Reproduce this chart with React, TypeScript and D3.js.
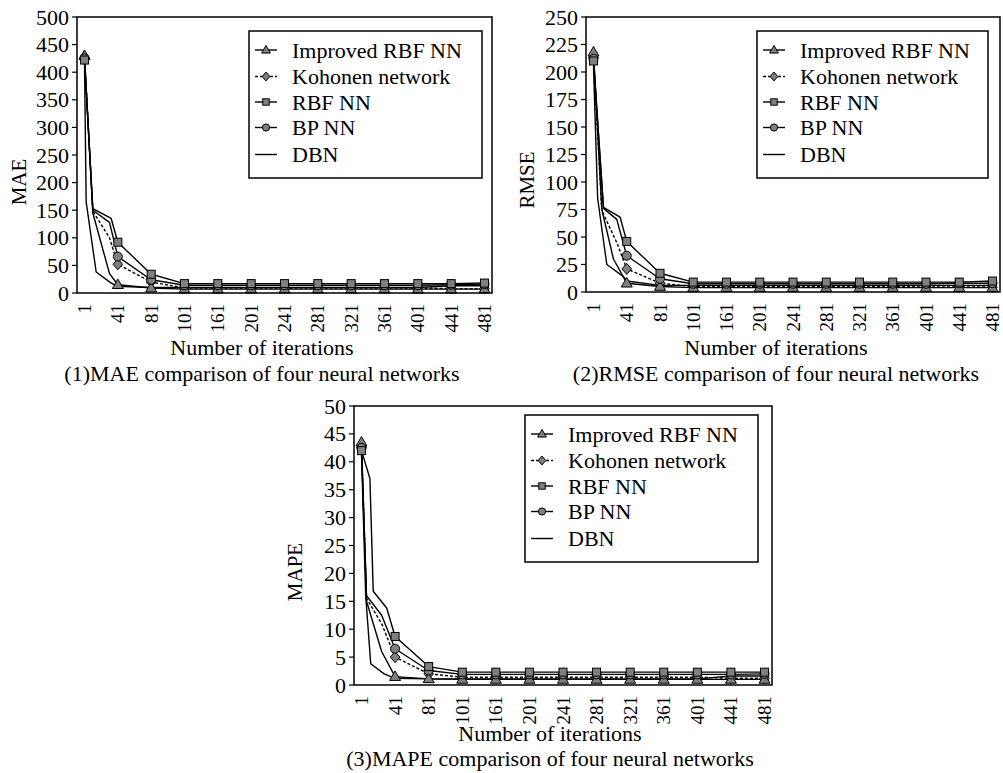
import React from "react";
import * as d3 from "d3";

// Iterations shown on the category axis
const iterationLabels = ["1", "41", "81", "101", "161", "201", "241", "281", "321", "361", "401", "441", "481"];
const iterationValues = iterationLabels.map(Number);

const seriesNames = ["Improved RBF NN", "Kohonen network", "RBF NN", "BP NN", "DBN"];

// ---- MAE, one value per labelled iteration ----
const maeImproved = [430, 15, 9, 7, 7, 7, 7, 7, 7, 7, 7, 7, 7];
const maeKohonen = [427, 52, 20, 9, 9, 9, 9, 9, 9, 9, 9, 8, 8];
const maeRbf = [422, 92, 34, 17, 17, 17, 17, 17, 17, 17, 17, 17, 18];
const maeBp = [425, 66, 24, 14, 14, 14, 14, 14, 14, 14, 14, 15, 16];
const maeDbn = [420, 12, 10, 10, 10, 10, 10, 10, 10, 10, 10, 13, 13];
// MAE readings between iterations 1 and 41: [iteration, value]
const maeImprovedEarly = [[11, 145], [31, 35]];
const maeKohonenEarly = [[11, 148], [31, 100]];
const maeRbfEarly = [[11, 153], [33, 135]];
const maeBpEarly = [[11, 150], [31, 128]];
const maeDbnEarly = [[3, 165], [15, 38], [33, 18]];

// ---- RMSE ----
const rmseImproved = [218, 8, 5, 4, 4, 4, 4, 4, 4, 4, 4, 4, 4];
const rmseKohonen = [213, 21, 8, 5, 5, 5, 5, 5, 5, 5, 4.5, 4.5, 4.5];
const rmseRbf = [210, 46, 17, 9, 9, 9, 9, 9, 9, 9, 9, 9, 10];
const rmseBp = [212, 33, 12, 7.5, 7.5, 7.5, 7.5, 7.5, 7.5, 7.5, 7.5, 8, 8];
const rmseDbn = [205, 10, 6, 6, 6, 6, 6, 6, 6, 6, 6, 6, 6];
const rmseImprovedEarly = [[11, 75], [25, 30]];
const rmseKohonenEarly = [[11, 74], [29, 45]];
const rmseRbfEarly = [[13, 77], [33, 68]];
const rmseBpEarly = [[13, 76], [29, 66]];
const rmseDbnEarly = [[6, 85], [17, 25], [37, 14]];

// ---- MAPE ----
const mapeImproved = [43.5, 1.5, 1.1, 1.0, 1.0, 1.0, 1.0, 1.0, 1.0, 1.0, 1.0, 1.0, 1.0];
const mapeKohonen = [42.5, 5, 2, 1.4, 1.4, 1.4, 1.4, 1.4, 1.4, 1.4, 1.4, 1.2, 1.2];
const mapeRbf = [42, 8.7, 3.3, 2.3, 2.3, 2.3, 2.3, 2.3, 2.3, 2.3, 2.3, 2.3, 2.3];
const mapeBp = [42.5, 6.5, 2.6, 1.9, 1.9, 1.9, 1.9, 1.9, 1.9, 1.9, 1.9, 1.9, 2.0];
const mapeDbn = [41.5, 1.2, 1.1, 1.1, 1.1, 1.1, 1.1, 1.1, 1.1, 1.1, 1.1, 1.6, 1.6];
const mapeImprovedEarly = [[7, 15], [25, 6]];
const mapeKohonenEarly = [[7, 15.5], [25, 11]];
const mapeRbfEarly = [[11, 37], [15, 16.8], [31, 13.8]];
const mapeBpEarly = [[7, 16], [25, 12.5]];
const mapeDbnEarly = [[6, 16], [12, 3.8], [28, 2.0]];

type Marker = "triangle" | "diamond" | "square" | "circle" | "none";
const seriesStyle: { marker: Marker; dash: string | null }[] = [
  { marker: "triangle", dash: null },
  { marker: "diamond", dash: "3,2" },
  { marker: "square", dash: null },
  { marker: "circle", dash: null },
  { marker: "none", dash: null },
];

type Panel = {
  yTitle: string;
  caption: string;
  yMax: number;
  yStep: number;
  values: number[][];
  early: number[][][];
  box: { l: number; t: number; r: number; b: number };
  legend: { l: number; t: number; r: number; b: number };
  yTitleX: number;
  yTitleY: number;
  centerX: number;
  xTitleY: number;
  captionY: number;
};

// series order: Improved, Kohonen, RBF, BP, DBN
const panels: Panel[] = [
  {
    yTitle: "MAE",
    caption: "(1)MAE comparison of four neural networks",
    yMax: 500,
    yStep: 50,
    values: [maeImproved, maeKohonen, maeRbf, maeBp, maeDbn],
    early: [maeImprovedEarly, maeKohonenEarly, maeRbfEarly, maeBpEarly, maeDbnEarly],
    box: { l: 77, t: 17, r: 492, b: 293 },
    legend: { l: 249, t: 31, r: 482, b: 178 },
    yTitleX: 19,
    yTitleY: 182,
    centerX: 262,
    xTitleY: 355,
    captionY: 381,
  },
  {
    yTitle: "RMSE",
    caption: "(2)RMSE comparison of four neural networks",
    yMax: 250,
    yStep: 25,
    values: [rmseImproved, rmseKohonen, rmseRbf, rmseBp, rmseDbn],
    early: [rmseImprovedEarly, rmseKohonenEarly, rmseRbfEarly, rmseBpEarly, rmseDbnEarly],
    box: { l: 586, t: 17, r: 1000, b: 292 },
    legend: { l: 757, t: 31, r: 988, b: 178 },
    yTitleX: 527,
    yTitleY: 180,
    centerX: 776,
    xTitleY: 355,
    captionY: 381,
  },
  {
    yTitle: "MAPE",
    caption: "(3)MAPE comparison of four neural networks",
    yMax: 50,
    yStep: 5,
    values: [mapeImproved, mapeKohonen, mapeRbf, mapeBp, mapeDbn],
    early: [mapeImprovedEarly, mapeKohonenEarly, mapeRbfEarly, mapeBpEarly, mapeDbnEarly],
    box: { l: 354, t: 406, r: 772, b: 685 },
    legend: { l: 525, t: 415, r: 758, b: 562 },
    yTitleX: 295,
    yTitleY: 572,
    centerX: 550,
    xTitleY: 741,
    captionY: 766,
  },
];

const FONT = "'Liberation Serif', 'Times New Roman', serif";
const MARKER_FILL = "#7f7f7f";

function MarkerShape({ kind, x, y, s }: { kind: Marker; x: number; y: number; s: number }) {
  const common = { fill: MARKER_FILL, stroke: "#000", strokeWidth: 1 };
  if (kind === "triangle") {
    const w = 5.5 * s, h = 9.5 * s;
    return <path d={`M${x},${y - h * 0.6}L${x + w},${y + h * 0.4}L${x - w},${y + h * 0.4}Z`} {...common} />;
  }
  if (kind === "diamond") {
    const w = 4.8 * s, h = 5.5 * s;
    return <path d={`M${x},${y - h}L${x + w},${y}L${x},${y + h}L${x - w},${y}Z`} {...common} />;
  }
  if (kind === "square") {
    const a = 4 * s;
    return <rect x={x - a} y={y - a} width={2 * a} height={2 * a} {...common} />;
  }
  if (kind === "circle") {
    return <circle cx={x} cy={y} r={4.5 * s} {...common} />;
  }
  return null;
}

function ChartPanel({ p }: { p: Panel }) {
  const { box } = p;
  const pad = 7.5;
  const idx = d3.range(iterationLabels.length);
  const xPos = d3.scaleLinear().domain([0, iterationLabels.length - 1]).range([box.l + pad, box.r - pad]);
  // piecewise mapping from iteration number to category position
  const iterToPos = d3.scaleLinear().domain(iterationValues).range(idx);
  const y = d3.scaleLinear().domain([0, p.yMax]).range([box.b, box.t]);
  const yTicks = d3.range(0, p.yMax + p.yStep / 2, p.yStep);
  const line = d3
    .line<[number, number]>()
    .x((d) => xPos(iterToPos(d[0])))
    .y((d) => y(d[1]));

  const seriesPoints = p.values.map((vals, si) => {
    const pts: [number, number][] = vals.map((v, i) => [iterationValues[i], v]);
    p.early[si].forEach((e) => pts.push([e[0], e[1]]));
    pts.sort((a, b) => a[0] - b[0]);
    return pts;
  });

  const drawOrder = [4, 1, 0, 3, 2];
  const lg = p.legend;
  const rowY = [19, 45.5, 71, 96.5, 123.5];

  return (
    <g>
      {/* y axis ticks and labels */}
      {yTicks.map((t) => (
        <g key={t}>
          <line x1={box.l - 5} x2={box.l} y1={y(t)} y2={y(t)} stroke="#000" strokeWidth={1.2} />
          <text x={box.l - 8} y={y(t)} textAnchor="end" dominantBaseline="central" fontSize={22} fontFamily={FONT}>
            {t}
          </text>
        </g>
      ))}
      {/* x category labels */}
      {iterationLabels.map((lab, i) => (
        <text
          key={lab}
          transform={`translate(${xPos(i)},${box.b + 11}) rotate(-90)`}
          textAnchor="end"
          dominantBaseline="central"
          fontSize={19}
          fontFamily={FONT}
        >
          {lab}
        </text>
      ))}
      {/* series lines */}
      {drawOrder.map((si) => (
        <path
          key={`l${si}`}
          d={line(seriesPoints[si]) || ""}
          fill="none"
          stroke="#000"
          strokeWidth={1.4}
          strokeDasharray={seriesStyle[si].dash || undefined}
          strokeLinejoin="round"
        />
      ))}
      {/* markers at labelled iterations */}
      {drawOrder.map((si) =>
        p.values[si].map((v, i) => (
          <MarkerShape key={`m${si}-${i}`} kind={seriesStyle[si].marker} x={xPos(i)} y={y(v)} s={1} />
        ))
      )}
      {/* plot frame */}
      <rect x={box.l} y={box.t} width={box.r - box.l} height={box.b - box.t} fill="none" stroke="#000" strokeWidth={1.5} />
      {/* legend */}
      <rect x={lg.l} y={lg.t} width={lg.r - lg.l} height={lg.b - lg.t} fill="#fff" stroke="#000" strokeWidth={1.5} />
      {seriesNames.map((name, si) => {
        const cy = lg.t + rowY[si];
        return (
          <g key={name}>
            <line
              x1={lg.l + 6}
              x2={lg.l + 28}
              y1={cy}
              y2={cy}
              stroke="#000"
              strokeWidth={1.4}
              strokeDasharray={seriesStyle[si].dash || undefined}
            />
            <MarkerShape kind={seriesStyle[si].marker} x={lg.l + 17} y={cy} s={0.8} />
            <text x={lg.l + 43} y={cy} dominantBaseline="central" fontSize={22} fontFamily={FONT}>
              {name}
            </text>
          </g>
        );
      })}
      {/* titles */}
      <text
        transform={`translate(${p.yTitleX},${p.yTitleY}) rotate(-90)`}
        textAnchor="middle"
        dominantBaseline="central"
        fontSize={21}
        fontFamily={FONT}
      >
        {p.yTitle}
      </text>
      <text x={p.centerX} y={p.xTitleY} textAnchor="middle" fontSize={22} fontFamily={FONT}>
        Number of iterations
      </text>
      <text x={p.centerX} y={p.captionY} textAnchor="middle" fontSize={22} fontFamily={FONT}>
        {p.caption}
      </text>
    </g>
  );
}

export default function App() {
  return (
    <svg
      width={1003}
      height={773}
      style={{ position: "absolute", left: 0, top: 0, background: "#fff" }}
    >
      <rect width={1003} height={773} fill="#fff" />
      {panels.map((p) => (
        <ChartPanel key={p.yTitle} p={p} />
      ))}
    </svg>
  );
}
